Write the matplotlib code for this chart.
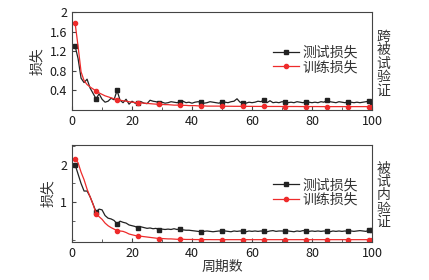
import matplotlib
matplotlib.use("Agg")
import matplotlib.pyplot as plt
from matplotlib.ticker import MultipleLocator

plt.rcParams['font.family'] = ['Noto Sans CJK SC', 'DejaVu Sans']

# ===== 数据 =====
epochs = list(range(1, 101))

cross_test = [1.31, 1.05, 0.65, 0.56, 0.63, 0.45, 0.34, 0.23, 0.33, 0.22,
              0.16, 0.18, 0.24, 0.21, 0.40, 0.20, 0.15, 0.22, 0.12, 0.18,
              0.14, 0.15, 0.17, 0.14, 0.13, 0.20, 0.18, 0.17, 0.15, 0.16,
              0.14, 0.15, 0.17, 0.16, 0.15, 0.17, 0.18, 0.15, 0.16, 0.14,
              0.16, 0.17, 0.16, 0.14, 0.15, 0.17, 0.16, 0.15, 0.14, 0.17,
              0.16, 0.15, 0.17, 0.18, 0.23, 0.16, 0.15, 0.14, 0.16, 0.15,
              0.16, 0.18, 0.17, 0.21, 0.15, 0.19, 0.15, 0.16, 0.15, 0.17,
              0.16, 0.15, 0.16, 0.15, 0.17, 0.16, 0.15, 0.17, 0.16, 0.15,
              0.16, 0.15, 0.17, 0.16, 0.20, 0.17, 0.16, 0.15, 0.17, 0.16,
              0.15, 0.17, 0.16, 0.15, 0.16, 0.15, 0.16, 0.17, 0.18, 0.16]
cross_train = [1.78, 1.30, 0.78, 0.60, 0.52, 0.47, 0.43, 0.39, 0.35, 0.32,
               0.29, 0.27, 0.25, 0.23, 0.21, 0.20, 0.19, 0.18, 0.17, 0.16,
               0.155, 0.15, 0.145, 0.14, 0.135, 0.13, 0.125, 0.12, 0.12, 0.115,
               0.11, 0.11, 0.105, 0.10, 0.10, 0.10, 0.095, 0.095, 0.09, 0.09,
               0.09, 0.085, 0.085, 0.085, 0.08, 0.08, 0.08, 0.08, 0.08, 0.078,
               0.078, 0.077, 0.077, 0.076, 0.076, 0.076, 0.075, 0.075, 0.075, 0.075,
               0.074, 0.074, 0.074, 0.074, 0.073, 0.073, 0.073, 0.073, 0.073, 0.072,
               0.072, 0.072, 0.072, 0.072, 0.072, 0.071, 0.071, 0.071, 0.071, 0.071,
               0.071, 0.071, 0.070, 0.070, 0.070, 0.070, 0.070, 0.070, 0.070, 0.070,
               0.070, 0.070, 0.070, 0.070, 0.070, 0.070, 0.070, 0.070, 0.070, 0.070]
within_test = [2.00, 1.75, 1.50, 1.30, 1.30, 1.15, 0.95, 0.75, 0.82, 0.80,
               0.65, 0.58, 0.56, 0.52, 0.43, 0.50, 0.47, 0.45, 0.40, 0.38,
               0.36, 0.32, 0.35, 0.33, 0.31, 0.32, 0.30, 0.31, 0.27, 0.29,
               0.28, 0.29, 0.28, 0.30, 0.28, 0.30, 0.27, 0.26, 0.26, 0.25,
               0.24, 0.23, 0.22, 0.23, 0.24, 0.23, 0.22, 0.23, 0.24, 0.23,
               0.24, 0.23, 0.22, 0.24, 0.23, 0.24, 0.23, 0.22, 0.24, 0.23,
               0.24, 0.23, 0.24, 0.23, 0.22, 0.24, 0.25, 0.23, 0.24, 0.24,
               0.23, 0.24, 0.23, 0.22, 0.24, 0.23, 0.25, 0.24, 0.23, 0.24,
               0.23, 0.24, 0.23, 0.24, 0.23, 0.22, 0.24, 0.23, 0.24, 0.23,
               0.24, 0.23, 0.24, 0.23, 0.24, 0.25, 0.24, 0.23, 0.26, 0.27]
within_train = [2.16, 2.05, 1.80, 1.60, 1.35, 1.15, 0.95, 0.70, 0.62, 0.55,
                0.45, 0.38, 0.33, 0.29, 0.25, 0.24, 0.23, 0.20, 0.16, 0.14,
                0.12, 0.11, 0.10, 0.09, 0.08, 0.07, 0.06, 0.05, 0.04, 0.04,
                0.035, 0.03, 0.03, 0.025, 0.02, 0.02, 0.02, 0.015, 0.015, 0.015,
                0.012, 0.012, 0.012, 0.011, 0.011, 0.011, 0.010, 0.010, 0.010, 0.010,
                0.010, 0.010, 0.010, 0.010, 0.010, 0.010, 0.010, 0.010, 0.010, 0.010,
                0.010, 0.010, 0.010, 0.010, 0.010, 0.010, 0.010, 0.010, 0.010, 0.010,
                0.010, 0.010, 0.010, 0.010, 0.010, 0.010, 0.010, 0.010, 0.010, 0.010,
                0.010, 0.010, 0.010, 0.010, 0.010, 0.010, 0.010, 0.010, 0.010, 0.010,
                0.010, 0.010, 0.010, 0.010, 0.010, 0.010, 0.010, 0.010, 0.010, 0.010]

mark_idx = list(range(0, 100, 7)) + [99]

BLACK = "#222222"
RED = "#ee2b2b"
TXT = "#333333"

fig = plt.figure(figsize=(4.29, 2.80), dpi=100)
ax1 = fig.add_axes([0.168, 0.607, 0.699, 0.350])
ax2 = fig.add_axes([0.168, 0.136, 0.699, 0.346])

panels = [
    (ax1, cross_test, cross_train, "跨\n被\n试\n验\n证", 0.773),
    (ax2, within_test, within_train, "被\n试\n内\n验\n证", 0.302),
]

for ax, test, train, side, sy in panels:
    ax.plot(epochs, test, color=BLACK, lw=0.9, marker="s", ms=3,
            markevery=mark_idx, label="测试损失")
    ax.plot(epochs, train, color=RED, lw=0.9, marker="o", ms=3,
            markevery=mark_idx, label="训练损失")
    ax.set_xlim(0, 100)
    ax.xaxis.set_major_locator(MultipleLocator(20))
    ax.xaxis.set_minor_locator(MultipleLocator(10))
    ax.tick_params(which="both", direction="in", top=False, right=False,
                   labelsize=9, colors="#444444", labelcolor="#1a1a1a")
    ax.tick_params(which="major", length=3)
    ax.tick_params(which="minor", length=2)
    for s in ax.spines.values():
        s.set_color("#444444")
        s.set_linewidth(0.8)
    ax.set_ylabel("损失", fontsize=10, color=TXT, labelpad=4)
    ax.legend(loc="upper right", bbox_to_anchor=(0.975, 0.73), frameon=False,
              fontsize=10, handlelength=1.9, handletextpad=0.2,
              labelspacing=0.05, borderpad=0, labelcolor=TXT)
    fig.text(0.893, sy, side, fontsize=10, color=TXT, ha="center",
             va="center", linespacing=0.95)

ax1.set_ylim(0, 2)
ax1.set_yticks([0.4, 0.8, 1.2, 1.6, 2.0])
ax1.set_yticklabels(["0.4", "0.8", "1.2", "1.6", "2"])

ax2.set_ylim(-0.05, 2.52)
ax2.set_yticks([1, 2])
ax2.yaxis.set_minor_locator(MultipleLocator(0.5))
ax2.set_xlabel("周期数", fontsize=10, color=TXT, labelpad=0)

fig.savefig("out.png", dpi=100)
